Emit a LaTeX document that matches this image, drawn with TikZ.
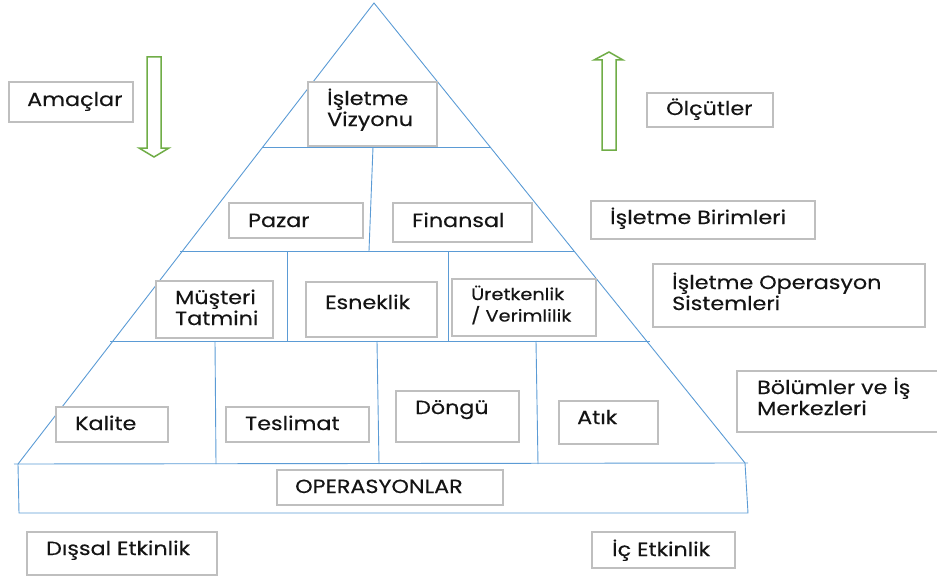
\documentclass[tikz,border=0pt]{standalone}
\usepackage{fontspec}
\setmainfont{Poppins}[FakeStretch=1.17, FakeBold=0.35]
\usetikzlibrary{fit,calc}
\definecolor{boxgray}{RGB}{191,191,191}
\definecolor{lineblue}{RGB}{91,155,213}
\definecolor{arrowgreen}{RGB}{112,173,71}
\definecolor{ink}{RGB}{20,20,20}
\newcommand\twoline[2]{\begin{tabular}[t]{@{}l@{}}#1\\#2\end{tabular}}
% a framed label box spanning (x1,y1)-(x2,y2)
\newcommand\panel[5]{%
  \path (#2,#3) coordinate (#1-a) (#4,#5) coordinate (#1-b);
  \node[box, fit=(#1-a)(#1-b)] (#1) {};}
\tikzset{
  box/.style={draw=boxgray, line width=1.8pt, fill=white, inner sep=0pt},
  lbl/.style={inner sep=0pt, anchor=base west, text=ink,
              font=\fontsize{19}{21}\selectfont},
  small/.style={font=\fontsize{16.5}{20}\selectfont},
  tri/.style={draw=lineblue, line width=0.9pt},
  garrow/.style={draw=arrowgreen, line width=1.5pt, fill=white, line join=miter},
}
\begin{document}
\begin{tikzpicture}[x=1pt, y=-1pt]
\useasboundingbox (0,0) rectangle (937,578);

% pyramid outline and base band
\coordinate (apex) at (374,3);
\coordinate (bl) at (18,464);
\coordinate (br) at (745,463);
\coordinate (bbl) at (19,513);
\coordinate (bbr) at (748,513);
\draw[tri] (bl) -- (apex) -- (br);
\draw[tri] (14,464) coordinate (bl0) -- (748,463) coordinate (br0);
\draw[tri] (bl) -- (bbl) -- (bbr) -- (br);

% level separators
\draw[tri] (262,147) coordinate (h1l) -- (491,147) coordinate (h1r);
\draw[tri] (180,251) coordinate (h2l) -- (575,251) coordinate (h2r);
\draw[tri] (110,341) coordinate (h3l) -- (650,341) coordinate (h3r);

% vertical dividers
\draw[tri] (373,147) coordinate (v1t) -- (369,251) coordinate (v1b);
\draw[tri] (287,251) coordinate (v2t) -- (287,341) coordinate (v2b);
\draw[tri] (448,251) coordinate (v3t) -- (448,341) coordinate (v3b);
\draw[tri] (215,341) coordinate (v4t) -- (216,464) coordinate (v4b);
\draw[tri] (377,341) coordinate (v5t) -- (379,464) coordinate (v5b);
\draw[tri] (536,341) coordinate (v6t) -- (538,464) coordinate (v6b);

% direction arrows
\draw[garrow] (147,57) -- (161,57) -- (161,148) -- (169,148) -- (154,157)
  -- (139,148) -- (147,148) -- cycle;
\draw[garrow] (602,150) -- (616,150) -- (616,60) -- (623,60) -- (609,52)
  -- (594,60) -- (602,60) -- cycle;

% framed boxes
\panel{amac}{9}{82}{133}{122}
\panel{vizyon}{308}{82}{437}{146}
\panel{pazar}{229}{203}{363}{238}
\panel{finans}{393}{203}{532}{242}
\panel{olcut}{647}{93}{773}{127}
\panel{birim}{591}{201}{815}{239}
\panel{opsis}{653}{264}{925}{327}
\panel{musteri}{156}{281}{273}{338}
\panel{esnek}{306}{282}{437}{337}
\panel{uret}{452}{279}{596}{336}
\panel{kalite}{56}{407}{168}{442}
\panel{teslim}{226}{407}{369}{442}
\panel{dongu}{396}{391}{519}{442}
\panel{atik}{559}{401}{658}{444}
\panel{bolum}{737}{371}{945}{432}
\panel{oper}{277}{470}{503}{505}
\panel{dissal}{27}{532}{217}{575}
\panel{ic}{592}{532}{735}{568}

% labels
\node[lbl] (amac-t) at (27,106) {Amaçlar};
\node[lbl] (vizyon-t) at (327,105) {\twoline{İşletme}{Vizyonu}};
\node[lbl] (pazar-t) at (248,227) {Pazar};
\node[lbl] (finans-t) at (412,227) {Finansal};
\node[lbl] (olcut-t) at (666,115) {Ölçütler};
\node[lbl] (birim-t) at (610,224) {İşletme Birimleri};
\node[lbl] (opsis-t) at (672,289) {\twoline{İşletme Operasyon}{Sistemleri}};
\node[lbl] (musteri-t) at (175,304) {\twoline{Müşteri}{Tatmini}};
\node[lbl] (esnek-t) at (325,309) {Esneklik};
\node[lbl, small] (uret-t) at (471,300) {\twoline{Üretkenlik}{/ Verimlilik}};
\node[lbl] (kalite-t) at (75,430) {Kalite};
\node[lbl] (teslim-t) at (245,430) {Teslimat};
\node[lbl] (dongu-t) at (415,414) {Döngü};
\node[lbl] (atik-t) at (577,424) {Atık};
\node[lbl] (bolum-t) at (757,394) {\twoline{Bölümler ve İş}{Merkezleri}};
\node[lbl] (oper-t) at (295,493) {OPERASYONLAR};
\node[lbl] (dissal-t) at (46,555) {Dışsal Etkinlik};
\node[lbl] (ic-t) at (612,556) {İç Etkinlik};
\end{tikzpicture}
\end{document}
